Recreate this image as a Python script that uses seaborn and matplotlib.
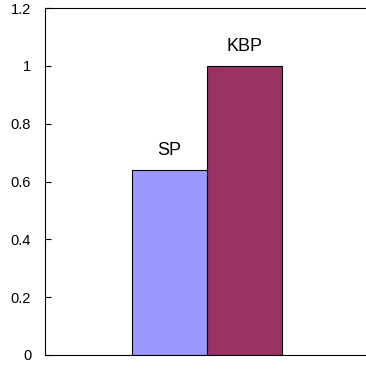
import pandas as pd
import matplotlib.pyplot as plt
import seaborn as sns

# values
methods = ['SP', 'KBP']
scores = [0.64, 1.0]
bar_colors = ['#9999FF', '#993366']
y_ticks = [0, 0.2, 0.4, 0.6, 0.8, 1, 1.2]
y_tick_labels = ['0', '0.2', '0.4', '0.6', '0.8', '1', '1.2']

df = pd.DataFrame({'group': [''] * len(methods), 'method': methods, 'score': scores})

sns.set_style('white')
plt.rcParams['font.family'] = ['Liberation Sans', 'DejaVu Sans']

fig = plt.figure(figsize=(3.66, 3.69), dpi=100)
ax = fig.add_axes([0.123, 0.038, 0.885, 0.94])

sns.barplot(data=df, x='group', y='score', hue='method', palette=bar_colors,
            saturation=1, width=0.463, edgecolor='black', linewidth=0.8,
            legend=False, ax=ax)

# label above each bar
for cont, name in zip(ax.containers, methods):
    ax.bar_label(cont, labels=[name], padding=8, fontsize=13, color='black')

ax.set_xlim(-0.5, 0.5)
ax.set_ylim(0, 1.2)
ax.set_yticks(y_ticks)
ax.set_yticklabels(y_tick_labels, fontsize=10.5, color='black')
ax.tick_params(axis='y', direction='in', length=4, width=0.8, color='black', pad=10, left=True)
ax.tick_params(axis='x', bottom=False, labelbottom=False)
ax.set_xlabel('')
ax.set_ylabel('')

for side in ['left', 'bottom', 'top']:
    ax.spines[side].set_color('black')
    ax.spines[side].set_linewidth(0.8)
ax.spines['right'].set_visible(False)

fig.savefig('out.png', dpi=100)
